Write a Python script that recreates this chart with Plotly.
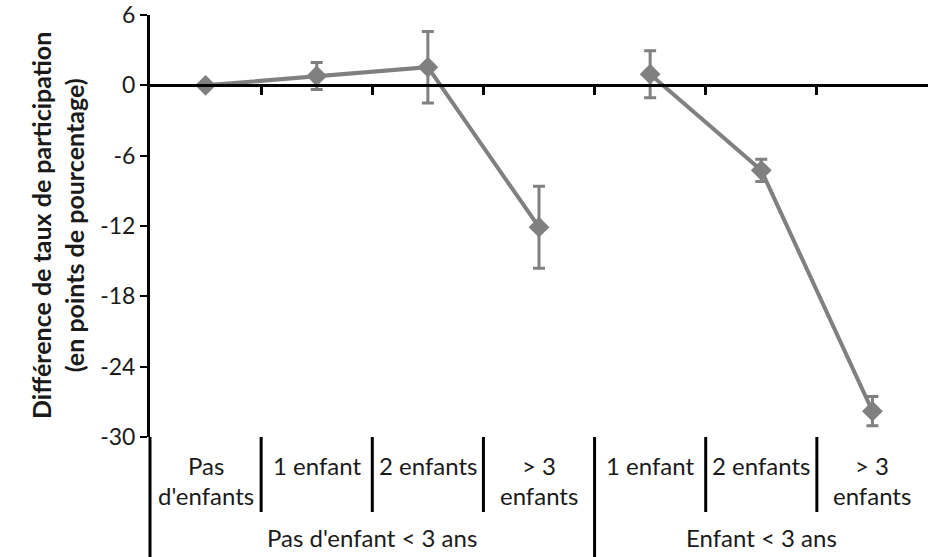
import plotly.graph_objects as go

# Data
categories = ["Pas d'enfants", "1 enfant", "2 enfants", "> 3 enfants",
              "1 enfant", "2 enfants", "> 3 enfants"]
cat_line1 = ["Pas", "1 enfant", "2 enfants", "> 3", "1 enfant", "2 enfants", "> 3"]
cat_line2 = ["d'enfants", "", "", "enfants", "", "", "enfants"]
groups = ["Pas d'enfant < 3 ans", "Enfant < 3 ans"]
group_sizes = [4, 3]

g1_values = [0.0, 0.8, 1.55, -12.1]
g1_errors = [0.0, 1.15, 3.05, 3.5]
g2_values = [0.95, -7.25, -27.8]
g2_errors = [2.0, 0.95, 1.25]

yticks = [6, 0, -6, -12, -18, -24, -30]
yticktext = ["6", "0", "-6", "-12", "-18", "-24", "-30"]

GRAY = "#808080"
FONT = "Lato"
FS_TICK = 23
FS_LAB = 24
FS_TITLE = 25
TXT = "#1a1a1a"

fig = go.Figure()

x1 = [i + 0.5 for i in range(group_sizes[0])]
x2 = [group_sizes[0] + i + 0.5 for i in range(group_sizes[1])]

for xs, vals, errs in [(x1, g1_values, g1_errors), (x2, g2_values, g2_errors)]:
    fig.add_trace(go.Scatter(
        x=xs, y=vals, mode="lines+markers",
        line=dict(color=GRAY, width=4),
        marker=dict(symbol="diamond", size=16, color=GRAY),
        error_y=dict(type="data", array=errs, visible=True, color=GRAY,
                     thickness=3, width=6),
        showlegend=False, hoverinfo="skip",
    ))

fig.update_layout(
    width=928, height=557,
    margin=dict(l=150, r=0, t=15, b=120),
    paper_bgcolor="white", plot_bgcolor="white",
    font=dict(family=FONT, size=FS_TICK, color=TXT),
    xaxis=dict(range=[0, 7], showgrid=False, zeroline=False,
               showline=True, linewidth=3, linecolor="black",
               anchor="free", position=30 / 36,
               tickmode="array", tickvals=[1, 2, 3, 4, 5, 6],
               ticks="outside", ticklen=8, tickwidth=3, tickcolor="black",
               showticklabels=False),
    yaxis=dict(range=[-30, 6], showgrid=False, zeroline=False,
               showline=True, linewidth=3, linecolor="black",
               tickmode="array", tickvals=yticks, ticktext=yticktext,
               ticks="outside", ticklen=7, tickwidth=2, tickcolor="black",
               tickfont=dict(family=FONT, size=FS_TICK, color=TXT)),
)

plot_h = 557 - 15 - 120
plot_w = 928 - 150

def py(p):
    # pixel y from top -> paper coordinate
    return (437 - p) / plot_h

# y-axis extension below plot
fig.add_shape(type="line", xref="paper", yref="paper", x0=0, x1=0,
              y0=0, y1=py(560), line=dict(color="black", width=3))

# dividers
boundaries = []
acc = 0
for gi, n in enumerate(group_sizes):
    for k in range(1, n):
        boundaries.append((acc + k, False))
    acc += n
    if gi < len(group_sizes) - 1:
        boundaries.append((acc, True))

for bx, is_group in boundaries:
    fig.add_shape(type="line", xref="x", yref="paper", x0=bx, x1=bx,
                  y0=0, y1=py(560 if is_group else 512),
                  line=dict(color="black", width=3))

# category labels
for i in range(len(categories)):
    fig.add_annotation(x=i + 0.5, y=py(465), xref="x", yref="paper",
                       text=cat_line1[i], showarrow=False, yanchor="middle",
                       font=dict(family=FONT, size=FS_LAB, color=TXT))
    if cat_line2[i]:
        fig.add_annotation(x=i + 0.5, y=py(495), xref="x", yref="paper",
                           text=cat_line2[i], showarrow=False, yanchor="middle",
                           font=dict(family=FONT, size=FS_LAB, color=TXT))

acc = 0
for g, n in zip(groups, group_sizes):
    fig.add_annotation(x=acc + n / 2, y=py(537), xref="x", yref="paper",
                       text=g, showarrow=False, yanchor="middle",
                       font=dict(family=FONT, size=FS_LAB, color=TXT))
    acc += n

# y title
fig.add_annotation(x=(57 - 150) / plot_w, y=0.5, xref="paper", yref="paper",
                   text="<b>Différence de taux de participation<br>(en points de pourcentage)</b>",
                   textangle=-90, showarrow=False, xanchor="center", yanchor="middle",
                   font=dict(family=FONT, size=FS_TITLE, color=TXT))

fig.write_html("out.html", config={"displayModeBar": False},
               post_script="document.body.style.margin='0';document.body.style.overflow='hidden';")
